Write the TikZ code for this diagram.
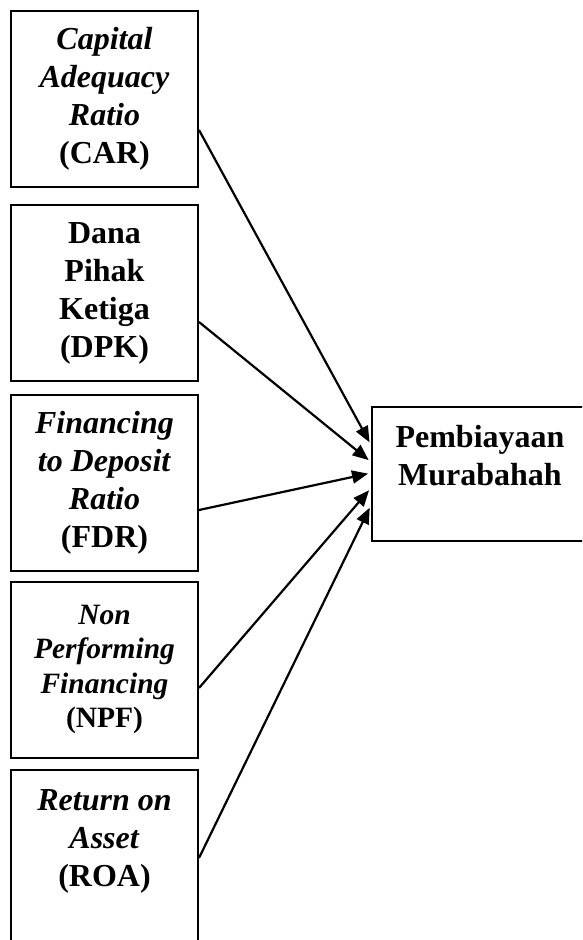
\documentclass[tikz,border=0pt]{standalone}
\usepackage{fontspec}
\setmainfont{Liberation Serif}
\usetikzlibrary{arrows.meta,calc}
\tikzset{
	varbox/.style={draw,line width=2pt,minimum width=187pt,minimum height=176pt,inner sep=4pt,align=center,font=\fontsize{32}{38}\selectfont\bfseries},
	arr/.style={line width=2.2pt,-{Triangle[length=16pt,width=13pt]},shorten >=3pt}
}
\begin{document}
\begin{tikzpicture}[x=1pt,y=-1pt]
				\useasboundingbox (0,0) rectangle (582,940);
				\clip (0,0) rectangle (582,940);
				
				\node[varbox] (car) at (104.5,99) {\textit{Capital}\\\textit{Adequacy}\\\textit{Ratio}\\(CAR)};
				\node[varbox] (dpk) at (104.5,293) {Dana\\Pihak\\Ketiga\\(DPK)};
				\node[varbox] (fdr) at (104.5,482.5) {\textit{Financing}\\\textit{to Deposit}\\\textit{Ratio}\\(FDR)};
				\node[varbox,font=\fontsize{29.5}{34.5}\selectfont\bfseries] (npf) at (104.5,669.5) {\textit{Non}\\\textit{Performing}\\\textit{Financing}\\(NPF)};
				\node[varbox,anchor=north,inner ysep=20pt] (roa) at (104.5,769) {\textit{Return on}\\\textit{Asset}\\(ROA)\\\mbox{}\\\mbox{}};
				
				\node[varbox,minimum width=216pt,minimum height=134pt] (murabahah) at (480,474) {Pembiayaan\\Murabahah\\\mbox{}};
				
				\draw[arr] ($(car.east)+(0,31)$) -- ($(murabahah.west)+(0,-29)$);
				\draw[arr] ($(dpk.east)+(0,29)$) -- ($(murabahah.west)+(0,-12)$);
				\draw[arr] ($(fdr.east)+(0,27.5)$) -- ($(murabahah.west)+(0,-1)$);
				\draw[arr] ($(npf.east)+(0,18.5)$) -- ($(murabahah.west)+(0,14)$);
				\draw[arr] ($(roa.north east)+(0,89)$) -- ($(murabahah.west)+(0,31)$);
			\end{tikzpicture}
\end{document}
